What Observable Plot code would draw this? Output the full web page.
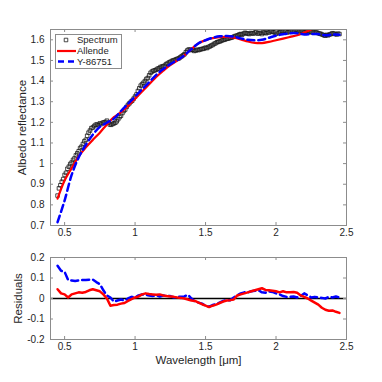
<!DOCTYPE html>
<html>
<head>
<meta charset="utf-8">
<script src="https://cdn.jsdelivr.net/npm/d3@7"></script>
<script src="https://cdn.jsdelivr.net/npm/@observablehq/plot@0.6"></script>
<style>
  html, body { margin: 0; padding: 0; background: #fff; }
  #wrap { position: relative; width: 382px; height: 382px; background: #fff; }
  #wrap svg { position: absolute; left: 0; top: 0; overflow: visible; }
</style>
</head>
<body>
<div id="wrap"></div>
<script>
// ---- Data ----
const specWavelength = [
  0.45,0.46,0.47,0.48,0.49,0.50,0.51,0.52,0.53,0.54,
  0.55,0.56,0.57,0.58,0.59,0.60,0.61,0.62,0.63,0.64,
  0.65,0.66,0.67,0.68,0.69,0.70,0.71,0.72,0.73,0.74,
  0.75,0.76,0.77,0.78,0.79,0.80,0.81,0.82,0.83,0.84,
  0.85,0.86,0.87,0.88,0.89,0.90,0.91,0.92,0.93,0.94,
  0.95,0.96,0.97,0.98,0.99,1.00,1.01,1.02,1.03,1.04,
  1.05,1.06,1.07,1.08,1.09,1.10,1.11,1.12,1.13,1.14,
  1.15,1.16,1.17,1.18,1.19,1.20,1.21,1.22,1.23,1.24,
  1.25,1.26,1.27,1.28,1.29,1.30,1.31,1.32,1.33,1.34,
  1.35,1.36,1.37,1.38,1.39,1.40,1.41,1.42,1.43,1.44,
  1.45,1.46,1.47,1.48,1.49,1.50,1.51,1.52,1.53,1.54,
  1.55,1.56,1.57,1.58,1.59,1.60,1.61,1.62,1.63,1.64,
  1.65,1.66,1.67,1.68,1.69,1.70,1.71,1.72,1.73,1.74,
  1.75,1.76,1.77,1.78,1.79,1.80,1.81,1.82,1.83,1.84,
  1.85,1.86,1.87,1.88,1.89,1.90,1.91,1.92,1.93,1.94,
  1.95,1.96,1.97,1.98,1.99,2.00,2.01,2.02,2.03,2.04,
  2.05,2.06,2.07,2.08,2.09,2.10,2.11,2.12,2.13,2.14,
  2.15,2.16,2.17,2.18,2.19,2.20,2.21,2.22,2.23,2.24,
  2.25,2.26,2.27,2.28,2.29,2.30,2.31,2.32,2.33,2.34,
  2.35,2.36,2.37,2.38,2.39,2.40,2.41,2.42,2.43,2.44,
  2.45];
const specValue = [
  0.845,0.880,0.895,0.912,0.925,0.945,0.955,0.975,0.985,0.998,
  1.005,1.018,1.025,1.040,1.050,1.060,1.075,1.082,1.095,1.108,
  1.115,1.135,1.150,1.160,1.172,1.175,1.182,1.188,1.190,1.186,
  1.195,1.192,1.198,1.200,1.202,1.208,1.198,1.190,1.188,1.192,
  1.195,1.198,1.205,1.215,1.225,1.232,1.245,1.255,1.262,1.275,
  1.285,1.292,1.300,1.305,1.315,1.325,1.335,1.352,1.365,1.378,
  1.385,1.392,1.400,1.410,1.415,1.428,1.440,1.446,1.450,1.452,
  1.455,1.460,1.462,1.468,1.470,1.472,1.475,1.482,1.485,1.490,
  1.493,1.497,1.500,1.502,1.505,1.508,1.510,1.515,1.520,1.525,
  1.530,1.540,1.548,1.553,1.552,1.550,1.552,1.546,1.548,1.552,
  1.550,1.553,1.555,1.556,1.558,1.562,1.560,1.565,1.568,1.572,
  1.575,1.580,1.583,1.588,1.590,1.592,1.595,1.598,1.600,1.602,
  1.605,1.606,1.608,1.610,1.612,1.615,1.618,1.620,1.622,1.626,
  1.628,1.625,1.630,1.634,1.632,1.630,1.628,1.633,1.632,1.630,
  1.635,1.638,1.630,1.632,1.634,1.628,1.636,1.634,1.632,1.638,
  1.635,1.642,1.640,1.638,1.636,1.630,1.632,1.636,1.638,1.643,
  1.640,1.644,1.642,1.636,1.638,1.642,1.645,1.641,1.644,1.648,
  1.646,1.643,1.640,1.645,1.642,1.638,1.640,1.644,1.638,1.640,
  1.636,1.638,1.634,1.637,1.635,1.632,1.630,1.628,1.625,1.622,
  1.620,1.624,1.622,1.626,1.628,1.632,1.630,1.628,1.626,1.630,
  1.628];

const modelWavelength = [0.45,0.50,0.55,0.60,0.65,0.70,0.75,0.80,0.85,0.90,0.95,1.00,1.05,1.10,1.15,1.20,1.25,1.30,1.35,1.40,1.45,1.50,1.55,1.60,1.65,1.70,1.75,1.80,1.85,1.90,1.95,2.00,2.05,2.10,2.15,2.20,2.25,2.30,2.35,2.40,2.45];
const allendeValue = [0.830,0.918,0.978,1.035,1.078,1.115,1.150,1.190,1.225,1.250,1.280,1.315,1.350,1.385,1.420,1.450,1.478,1.500,1.525,1.555,1.583,1.598,1.608,1.613,1.614,1.610,1.602,1.592,1.585,1.584,1.590,1.598,1.606,1.614,1.622,1.635,1.650,1.668,1.680,1.690,1.700];
const y86751Value = [0.716,0.821,0.945,1.030,1.090,1.140,1.178,1.198,1.218,1.255,1.290,1.325,1.360,1.395,1.430,1.458,1.482,1.502,1.525,1.555,1.583,1.598,1.610,1.617,1.618,1.615,1.607,1.600,1.598,1.600,1.610,1.620,1.627,1.632,1.632,1.626,1.628,1.628,1.622,1.625,1.625];

const resWavelength = [0.45,0.475,0.5,0.525,0.55,0.575,0.6,0.625,0.65,0.675,0.7,0.725,0.75,0.775,0.8,0.825,0.85,0.875,0.9,0.925,0.95,0.975,1.0,1.025,1.05,1.075,1.1,1.125,1.15,1.175,1.2,1.225,1.25,1.275,1.3,1.325,1.35,1.375,1.4,1.425,1.45,1.475,1.5,1.525,1.55,1.575,1.6,1.625,1.65,1.675,1.7,1.725,1.75,1.775,1.8,1.825,1.85,1.875,1.9,1.925,1.95,1.975,2.0,2.025,2.05,2.075,2.1,2.125,2.15,2.175,2.2,2.225,2.25,2.275,2.3,2.325,2.35,2.375,2.4,2.425,2.45];
const allendeResidual = [0.045,0.025,0.020,0.005,0.020,0.025,0.030,0.028,0.032,0.040,0.045,0.040,0.035,0.020,0.000,-0.035,-0.032,-0.030,-0.025,-0.022,-0.012,-0.003,0.005,0.010,0.020,0.025,0.022,0.020,0.018,0.020,0.015,0.012,0.010,0.008,0.005,0.003,0.000,-0.005,-0.010,-0.012,-0.020,-0.028,-0.035,-0.042,-0.035,-0.030,-0.022,-0.015,-0.010,-0.008,-0.005,0.015,0.020,0.025,0.030,0.035,0.040,0.045,0.050,0.042,0.040,0.038,0.035,0.030,0.035,0.030,0.030,0.032,0.028,0.015,0.008,0.000,-0.010,-0.020,-0.030,-0.045,-0.055,-0.060,-0.058,-0.065,-0.070];
const y86751Residual = [0.160,0.135,0.130,0.090,0.088,0.085,0.088,0.090,0.090,0.092,0.092,0.080,0.070,0.040,0.015,0.005,-0.015,-0.010,-0.005,-0.010,0.000,0.008,0.005,0.015,0.020,0.018,0.015,0.012,0.015,0.010,0.015,0.012,0.012,0.005,0.008,0.008,0.010,0.018,0.000,-0.015,-0.020,-0.025,-0.035,-0.040,-0.032,-0.028,-0.020,-0.012,-0.008,-0.008,0.005,0.015,0.025,0.030,0.030,0.035,0.038,0.040,0.030,0.028,0.035,0.032,0.025,0.020,0.012,0.008,0.008,0.010,0.005,0.012,0.025,0.015,0.005,0.008,0.005,0.003,0.000,0.008,0.005,0.010,0.005];

const xTicks = [0.5, 1, 1.5, 2, 2.5];
const yTicksTop = [0.7, 0.8, 0.9, 1, 1.1, 1.2, 1.3, 1.4, 1.5, 1.6];
const yTicksBottom = [-0.2, -0.1, 0, 0.1, 0.2];
const legendLabels = ["Spectrum", "Allende", "Y-86751"];

// ---- Tables built from the arrays ----
const spectrum = specWavelength.map((w, i) => ({w, v: specValue[i]}));
const allende = modelWavelength.map((w, i) => ({w, v: allendeValue[i]}));
const y86751 = modelWavelength.map((w, i) => ({w, v: y86751Value[i]}));
const resAllende = resWavelength.map((w, i) => ({w, v: allendeResidual[i]}));
const resY = resWavelength.map((w, i) => ({w, v: y86751Residual[i]}));

const FONT = "'Liberation Sans', Arial, Helvetica, sans-serif";
const FRAME = "#8c8c8c";
const TEXT = "#262626";
const RED = "#ff0000";
const BLUE = "#0000ff";
const W = 382, H = 382;
const ML = 50, MR = 36;
const plotW = W - ML - MR;
const TICK = 3;
const MARK_R = 2.0;

function frameTicks(yTicks, innerH) {
  return [
    Plot.tickX(xTicks, {x: d => d, stroke: FRAME, insetTop: innerH - TICK}),
    Plot.tickX(xTicks, {x: d => d, stroke: FRAME, insetBottom: innerH - TICK}),
    Plot.tickY(yTicks, {y: d => d, stroke: FRAME, insetRight: plotW - TICK}),
    Plot.tickY(yTicks, {y: d => d, stroke: FRAME, insetLeft: plotW - TICK}),
    Plot.frame({stroke: FRAME, strokeWidth: 1}),
    Plot.axisX(xTicks, {tickSize: 0, tickPadding: 3, label: null, tickFormat: d => String(d), fill: TEXT, fontSize: 10}),
    Plot.axisY(yTicks, {tickSize: 0, tickPadding: 6, label: null, tickFormat: d => String(d), fill: TEXT, fontSize: 10})
  ];
}

// ---- Top panel ----
const topMT = 29, topMB = H - 225;
const topInnerH = H - topMT - topMB;
const topPanel = Plot.plot({
  width: W, height: H,
  marginLeft: ML, marginRight: MR, marginTop: topMT, marginBottom: topMB,
  style: {fontFamily: FONT, fontSize: "10px", color: TEXT, background: "none", overflow: "visible"},
  x: {domain: [0.4, 2.5], axis: null},
  y: {domain: [0.7, 1.65], axis: null},
  marks: [
    Plot.dot(spectrum, {x: "w", y: "v", symbol: "square", r: MARK_R, stroke: "#1a1a1a", strokeWidth: 0.8, fill: "none", clip: true}),
    Plot.line(allende, {x: "w", y: "v", stroke: RED, strokeWidth: 2.2, curve: "catmull-rom", clip: true}),
    Plot.line(y86751, {x: "w", y: "v", stroke: BLUE, strokeWidth: 2.5, strokeDasharray: "7,4", curve: "catmull-rom", clip: true}),
    ...frameTicks(yTicksTop, topInnerH),
    Plot.text(["Albedo reflectance"], {frameAnchor: "left", dx: -28, rotate: -90, fill: TEXT, fontSize: 11.5, textAnchor: "middle", lineAnchor: "middle"})
  ]
});

// ---- Bottom panel ----
const botMT = 257, botMB = H - 339;
const botInnerH = H - botMT - botMB;
const bottomPanel = Plot.plot({
  width: W, height: H,
  marginLeft: ML, marginRight: MR, marginTop: botMT, marginBottom: botMB,
  style: {fontFamily: FONT, fontSize: "10px", color: TEXT, background: "none", overflow: "visible"},
  x: {domain: [0.4, 2.5], axis: null},
  y: {domain: [-0.2, 0.2], axis: null},
  marks: [
    Plot.ruleY([0], {stroke: "#000", strokeWidth: 1.3}),
    Plot.line(resY, {x: "w", y: "v", stroke: BLUE, strokeWidth: 2.5, strokeDasharray: "7,4", clip: true}),
    Plot.line(resAllende, {x: "w", y: "v", stroke: RED, strokeWidth: 2.5, clip: true}),
    ...frameTicks(yTicksBottom, botInnerH),
    Plot.text(["Residuals"], {frameAnchor: "left", dx: -32, rotate: -90, fill: TEXT, fontSize: 11.5, textAnchor: "middle", lineAnchor: "middle"}),
    Plot.text(["Wavelength [\u03bcm]"], {frameAnchor: "bottom", dy: 21, fill: TEXT, fontSize: 11.5, textAnchor: "middle", lineAnchor: "middle"})
  ]
});

const wrap = document.getElementById("wrap");
wrap.appendChild(topPanel);
wrap.appendChild(bottomPanel);

// ---- Legend (drawn over the top panel) ----
const leg = d3.select(wrap).append("svg")
  .attr("width", W).attr("height", H)
  .style("font-family", FONT).style("font-size", "9.5px");
const lx = 55, ly = 34, lw = 66, lh = 34;
leg.append("rect").attr("x", lx + 0.5).attr("y", ly + 0.5).attr("width", lw).attr("height", lh)
  .attr("fill", "#fff").attr("stroke", FRAME).attr("stroke-width", 1);
const rowY = [ly + 6, ly + 17, ly + 27.5];
leg.append("path").attr("d", d3.symbol(d3.symbolSquare, MARK_R * MARK_R * Math.PI)())
  .attr("transform", `translate(${lx + 11},${rowY[0]})`)
  .attr("fill", "none").attr("stroke", "#1a1a1a").attr("stroke-width", 0.8);
leg.append("line").attr("x1", lx + 2).attr("x2", lx + 21).attr("y1", rowY[1]).attr("y2", rowY[1])
  .attr("stroke", RED).attr("stroke-width", 2.2);
leg.append("line").attr("x1", lx + 3).attr("x2", lx + 21).attr("y1", rowY[2]).attr("y2", rowY[2])
  .attr("stroke", BLUE).attr("stroke-width", 2.5).attr("stroke-dasharray", "6,4");
legendLabels.forEach((t, i) => {
  leg.append("text").attr("x", lx + 22).attr("y", rowY[i]).attr("dy", "0.35em")
    .attr("fill", TEXT).text(t);
});
</script>
</body>
</html>
